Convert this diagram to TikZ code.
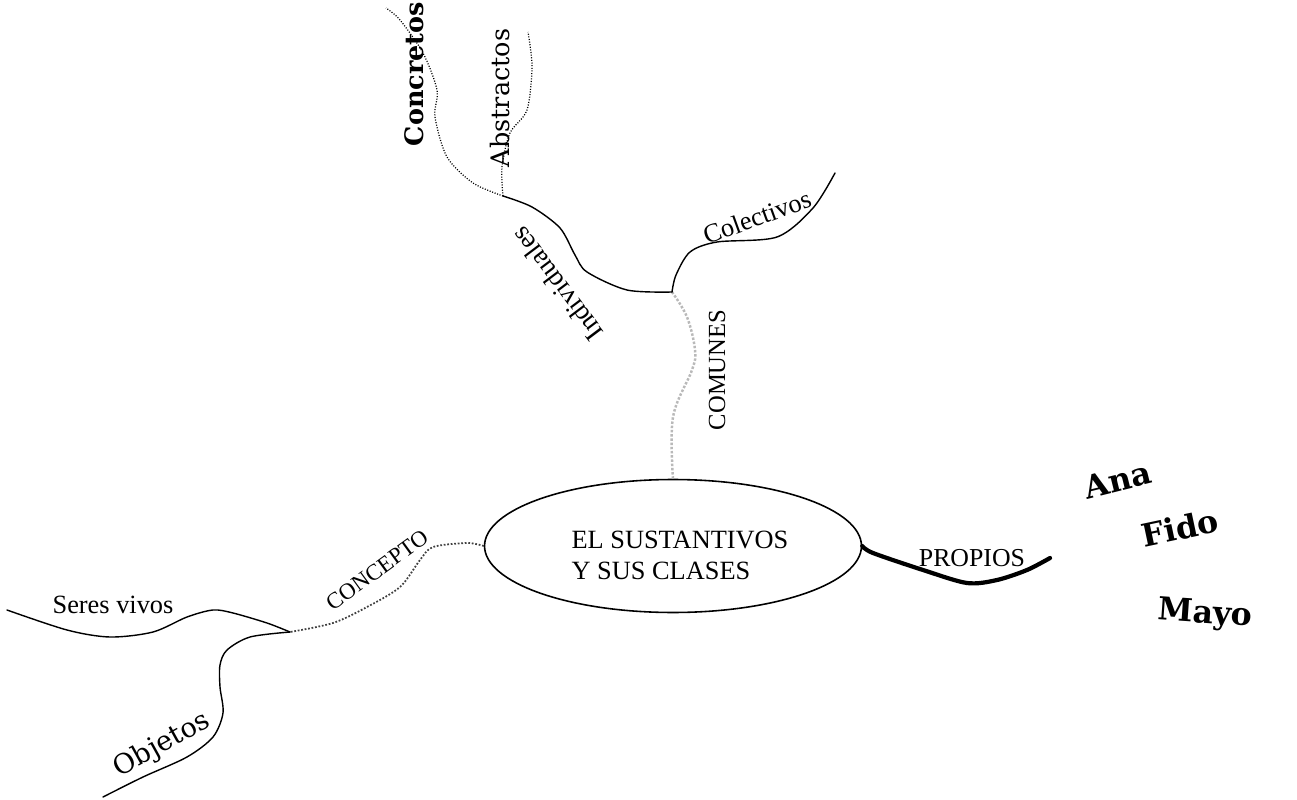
\documentclass[tikz,border=0pt]{standalone}
\usepackage{fontspec}
\setmainfont{Liberation Serif}
\newfontfamily\anchafont{DejaVu Serif}
\usetikzlibrary{shapes.geometric}

\tikzset{
  rama/.style={line width=0.8pt, line cap=round},
  ramagris/.style={gray!55, line width=1.4pt, densely dotted},
  ramapunto/.style={line width=0.7pt, dash pattern=on 0.6pt off 0.9pt},
  ramaconc/.style={black!75, line width=1pt, densely dotted},
  etiq/.style={font=\fontsize{14}{16}\selectfont, inner sep=0pt},
  ancha/.style={font=\anchafont\fontsize{14.5}{16}\selectfont, inner sep=0pt},
  anchab/.style={font=\anchafont\bfseries\fontsize{18}{20}\selectfont, inner sep=0pt},
}

\begin{document}
\begin{tikzpicture}[x=0.02cm, y=-0.02cm]
  \useasboundingbox (0,0) rectangle (1297,800);

  % nodo central
  \node[draw, ellipse, line width=0.9pt, minimum width=7.54cm, minimum height=2.66cm] (tema) at (673,546) {};
  \node[align=left, font=\fontsize{15}{17.6}\selectfont, inner sep=0pt] (titulo) at (680,555)
        {EL SUSTANTIVOS\\ Y SUS CLASES};

  % puntos de union y extremos
  \coordinate (jcom) at (672,292);
  \coordinate (jind) at (503,196);
  \coordinate (jcon) at (290,632);
  \coordinate (fcol) at (835,173);
  \coordinate (fcre) at (386,8);
  \coordinate (fabs) at (528,32);
  \coordinate (fser) at (7,610);
  \coordinate (fobj) at (103,797);
  \coordinate (fpro) at (1050,558);

  % ramas
  \draw[ramagris] plot[smooth, tension=0.6] coordinates {(tema.north) (673,417) (692,370) (695,350) (687,317) (jcom)};
  \draw[rama] plot[smooth] coordinates {(jcom) (627,290) (587,272) (575,255) (560,228) (532,207) (jind)};
  \draw[rama] plot[smooth] coordinates {(jcom) (676,275) (690,252) (717,242) (777,237) (813,208) (fcol)};
  \draw[ramapunto] plot[smooth] coordinates {(jind) (473,183) (447,157) (435,117) (437,90) (423,53) (400,20) (fcre)};
  \draw[ramapunto] plot[smooth] coordinates {(jind) (502,167) (510,133) (527,110) (532,67) (fabs)};
  \draw[ramaconc] plot[smooth] coordinates {(tema.west) (467,543) (433,547) (420,560) (400,587) (367,607) (333,623) (jcon)};
  \draw[rama] plot[smooth] coordinates {(jcon) (267,623) (233,613) (213,610) (187,617) (153,632) (110,637) (67,630) (fser)};
  \draw[rama] plot[smooth] coordinates {(jcon) (250,637) (227,650) (220,665) (220,687) (223,713) (213,737) (187,757) (143,777) (fobj)};
  \draw[line width=2.4pt, line cap=round] plot[smooth] coordinates {(tema.east) (873,553) (923,570) (967,583) (997,580) (1027,570) (fpro)};

  % etiquetas
  \node[etiq, rotate=90] (comunes) at (717,370) {COMUNES};
  \node[etiq, font=\fontsize{15}{17}\selectfont, rotate=20] (colectivos) at (757,217) {Colectivos};
  \node[etiq, font=\fontsize{15.5}{17}\selectfont, rotate=127] (individuales) at (557,284) {Individuales};
  \node[ancha, font=\anchafont\bfseries\fontsize{14.5}{16}\selectfont, rotate=90] (concretos) at (414,74) {Concretos};
  \node[ancha, rotate=90] (abstractos) at (500,98) {Abstractos};
  \node[etiq, font=\fontsize{13}{15}\selectfont, rotate=36] (concepto) at (377,570) {CONCEPTO};
  \node[etiq, font=\fontsize{15}{17}\selectfont] (seres) at (113,605) {Seres vivos};
  \node[ancha, font=\anchafont\fontsize{15.5}{17}\selectfont, rotate=29] (objetos) at (162,745) {Objetos};
  \node[etiq, font=\fontsize{14.7}{17}\selectfont] (propios) at (972,558) {PROPIOS};
  \node[anchab, rotate=14] (ana) at (1118,480) {Ana};
  \node[anchab, rotate=12] (fido) at (1180,528) {Fido};
  \node[anchab, rotate=-4] (mayo) at (1205,615) {Mayo};
\end{tikzpicture}
\end{document}
